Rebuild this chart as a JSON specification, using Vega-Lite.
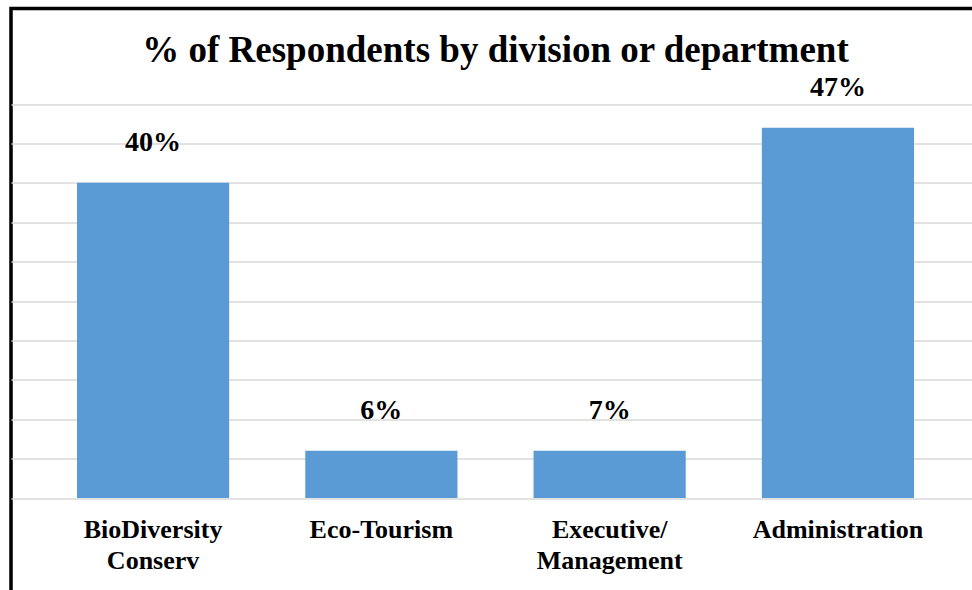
{
  "$schema": "https://vega.github.io/schema/vega-lite/v6.json",
  "width": 969,
  "height": 592,
  "autosize": {"type": "none"},
  "padding": {"left": 11, "top": 8.5, "right": -8, "bottom": -10.5},
  "background": "white",
  "title": {
    "text": "% of Respondents by division or department",
    "font": "Liberation Serif",
    "fontSize": 37,
    "fontWeight": "bold",
    "color": "black",
    "anchor": "middle",
    "baseline": "alphabetic",
    "offset": -53.5,
    "dy": 37
  },
  "config": {"view": {"stroke": "black", "strokeWidth": 3.5}},
  "data": {
    "values": [
      {"division": "BioDiversity Conserv", "pct": 40, "label": "40%"},
      {"division": "Eco-Tourism", "pct": 6, "label": "6%"},
      {"division": "Executive/ Management", "pct": 6, "label": "7%"},
      {"division": "Administration", "pct": 47, "label": "47%"}
    ]
  },
  "encoding": {
    "x": {
      "field": "division",
      "type": "nominal",
      "sort": null,
      "scale": {"paddingInner": 0.3333, "paddingOuter": 0.289},
      "axis": {
        "title": null,
        "orient": "bottom",
        "offset": -102.5,
        "domain": false,
        "ticks": false,
        "labelAngle": 0,
        "labelFont": "Liberation Serif",
        "labelFontSize": 26,
        "labelFontWeight": "bold",
        "labelColor": "black",
        "labelPadding": 18,
        "labelLineHeight": 31,
        "labelBaseline": "top",
        "labelLimit": 400,
        "labelExpr": "split(datum.label, ' ')"
      }
    },
    "y": {
      "field": "pct",
      "type": "quantitative",
      "scale": {"domain": [-13, 62.12], "nice": false, "zero": false},
      "axis": {
        "title": null,
        "labels": false,
        "ticks": false,
        "domain": false,
        "grid": true,
        "gridColor": "#d9d9d9",
        "gridWidth": 1.3,
        "values": [0, 5, 10, 15, 20, 25, 30, 35, 40, 45, 50]
      }
    }
  },
  "layer": [
    {
      "mark": {"type": "bar", "color": "#5b9bd5"},
      "encoding": {"y2": {"datum": 0}}
    },
    {
      "mark": {
        "type": "text",
        "dy": -32,
        "baseline": "alphabetic",
        "font": "Liberation Serif",
        "fontSize": 28,
        "fontWeight": "bold",
        "color": "black"
      },
      "encoding": {"text": {"field": "label"}}
    }
  ]
}
